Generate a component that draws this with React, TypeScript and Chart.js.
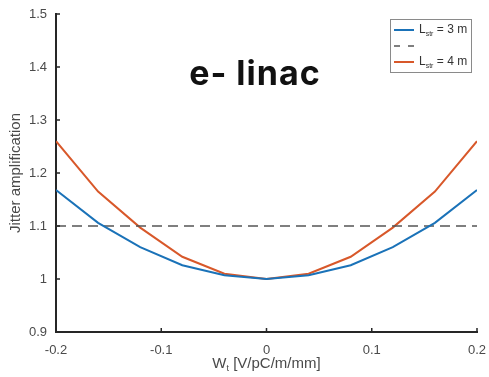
import React, { useEffect, useRef } from "react";
import { Chart, registerables } from "chart.js";

Chart.register(...registerables);

const wValues = [-0.2, -0.16, -0.12, -0.08, -0.04, 0, 0.04, 0.08, 0.12, 0.16, 0.2];
const jitter3m = [1.168, 1.106, 1.06, 1.026, 1.007, 1.0, 1.007, 1.026, 1.06, 1.106, 1.168];
const jitter4m = [1.26, 1.165, 1.097, 1.042, 1.01, 1.0, 1.01, 1.042, 1.097, 1.165, 1.26];
const thresholdX = [-0.2, 0.2];
const thresholdY = [1.1, 1.1];
const xTicks = [-0.2, -0.1, 0, 0.1, 0.2];
const yTicks = [0.9, 1, 1.1, 1.2, 1.3, 1.4, 1.5];
const seriesLabels = ["L_{str} = 3 m", "", "L_{str} = 4 m"];
const chartTitle = "e- linac";
const titleAnchor = { x: -0.011, y: 1.385 };
const xAxisTitle = "W_{t} [V/pC/m/mm]";
const yAxisTitle = "Jitter amplification";

const BLUE = "#1a72b8";
const ORANGE = "#d8582a";
const DASH = "#555555";
const AXIS = "#262626";
const TEXT = "#4a4a4a";
const FONT = "'Liberation Sans', Arial, sans-serif";

function parseRich(text: string) {
  const segs: { t: string; sub: boolean }[] = [];
  const re = /_\{([^}]*)\}/g;
  let last = 0;
  let m: RegExpExecArray | null;
  while ((m = re.exec(text))) {
    if (m.index > last) segs.push({ t: text.slice(last, m.index), sub: false });
    segs.push({ t: m[1], sub: true });
    last = m.index + m[0].length;
  }
  if (last < text.length) segs.push({ t: text.slice(last), sub: false });
  return segs;
}

function drawRich(
  ctx: CanvasRenderingContext2D,
  text: string,
  x: number,
  y: number,
  size: number,
  align: "left" | "center",
  color: string
) {
  const segs = parseRich(text);
  const subSize = Math.round(size * 0.62);
  let total = 0;
  for (const s of segs) {
    ctx.font = `${s.sub ? subSize : size}px ${FONT}`;
    total += ctx.measureText(s.t).width;
  }
  let cx = align === "center" ? x - total / 2 : x;
  ctx.fillStyle = color;
  ctx.textBaseline = "middle";
  ctx.textAlign = "left";
  for (const s of segs) {
    ctx.font = `${s.sub ? subSize : size}px ${FONT}`;
    ctx.fillText(s.t, cx, s.sub ? y + size * 0.3 : y);
    cx += ctx.measureText(s.t).width;
  }
}

const decorPlugin = {
  id: "decor",
  afterDraw(chart: any) {
    const { ctx, chartArea, scales } = chart;
    const xs = scales.x;
    const ys = scales.y;
    ctx.save();
    // inward tick marks
    ctx.strokeStyle = AXIS;
    ctx.lineWidth = 1.5;
    ctx.beginPath();
    for (const v of yTicks) {
      const py = ys.getPixelForValue(v);
      ctx.moveTo(chartArea.left, py);
      ctx.lineTo(chartArea.left + 4, py);
    }
    for (const v of xTicks) {
      const px = xs.getPixelForValue(v);
      ctx.moveTo(px, chartArea.bottom);
      ctx.lineTo(px, chartArea.bottom - 4);
    }
    ctx.stroke();

    // x axis title with subscript
    drawRich(ctx, xAxisTitle, (chartArea.left + chartArea.right) / 2, chartArea.bottom + 32, 15, "center", TEXT);

    // big title
    ctx.fillStyle = "#111111";
    ctx.font = "bold 34px Inter, 'Open Sans', sans-serif";
    (ctx as any).letterSpacing = "1px";
    ctx.textAlign = "center";
    ctx.textBaseline = "middle";
    ctx.fillText(chartTitle, xs.getPixelForValue(titleAnchor.x), ys.getPixelForValue(titleAnchor.y));
    (ctx as any).letterSpacing = "0px";

    // legend
    const boxW = 81;
    const boxH = 53;
    const bx = chartArea.right - 6 - boxW;
    const by = chartArea.top + 5;
    ctx.fillStyle = "#ffffff";
    ctx.fillRect(bx, by, boxW, boxH);
    ctx.strokeStyle = "#8a8a8a";
    ctx.lineWidth = 1;
    ctx.strokeRect(bx + 0.5, by + 0.5, boxW, boxH);
    chart.data.datasets.forEach((ds: any, i: number) => {
      const ry = by + 11 + i * 16;
      ctx.strokeStyle = ds.borderColor;
      ctx.lineWidth = ds.borderWidth;
      ctx.setLineDash(ds.borderDash ? [6, 8] : []);
      ctx.beginPath();
      ctx.moveTo(bx + 4, ry);
      ctx.lineTo(bx + 24, ry);
      ctx.stroke();
      ctx.setLineDash([]);
      if (ds.label) drawRich(ctx, ds.label, bx + 29, ry, 12, "left", "#333333");
    });
    ctx.restore();
  },
};

export default function App() {
  const ref = useRef<HTMLCanvasElement | null>(null);
  useEffect(() => {
    document.body.style.margin = "0";
    if (!ref.current) return;
    const chart = new Chart(ref.current, {
      type: "line",
      data: {
        datasets: [
          {
            label: seriesLabels[0],
            data: wValues.map((x, i) => ({ x, y: jitter3m[i] })),
            borderColor: BLUE,
            borderWidth: 2,
            pointRadius: 0,
            tension: 0,
          },
          {
            label: seriesLabels[1],
            data: thresholdX.map((x, i) => ({ x, y: thresholdY[i] })),
            borderColor: DASH,
            borderWidth: 1.5,
            borderDash: [10, 6],
            pointRadius: 0,
            tension: 0,
          },
          {
            label: seriesLabels[2],
            data: wValues.map((x, i) => ({ x, y: jitter4m[i] })),
            borderColor: ORANGE,
            borderWidth: 2,
            pointRadius: 0,
            tension: 0,
          },
        ],
      },
      options: {
        animation: false,
        responsive: true,
        maintainAspectRatio: false,
        layout: { padding: { top: 14, right: 12, left: 0, bottom: 0 } },
        plugins: { legend: { display: false }, tooltip: { enabled: false } },
        scales: {
          x: {
            type: "linear",
            min: -0.2,
            max: 0.2,
            afterBuildTicks: (s: any) => {
              s.ticks = xTicks.map((v) => ({ value: v }));
            },
            afterFit: (s: any) => {
              s.height = 45;
              s.paddingLeft = 0;
              s.paddingRight = 0;
            },
            grid: { display: false, drawTicks: false },
            border: { display: true, color: AXIS, width: 2 },
            ticks: {
              padding: 11,
              color: TEXT,
              font: { size: 13, family: FONT },
              maxRotation: 0,
              callback: (v: any) => String(Math.round(Number(v) * 10) / 10),
            },
          },
          y: {
            min: 0.9,
            max: 1.5,
            afterBuildTicks: (s: any) => {
              s.ticks = yTicks.map((v) => ({ value: v }));
            },
            afterFit: (s: any) => {
              s.width = 56;
              s.paddingTop = 0;
              s.paddingBottom = 0;
            },
            grid: { display: false, drawTicks: false },
            border: { display: true, color: AXIS, width: 2 },
            title: {
              display: true,
              text: yAxisTitle,
              color: TEXT,
              font: { size: 15, family: FONT },
              padding: { top: 7, bottom: 0 },
            },
            ticks: {
              padding: 9,
              color: TEXT,
              font: { size: 13, family: FONT },
              callback: (v: any) => String(Math.round(Number(v) * 10) / 10),
            },
          },
        },
      },
      plugins: [decorPlugin],
    } as any);
    return () => chart.destroy();
  }, []);
  return (
    <div style={{ position: "relative", width: 489, height: 377 }}>
      <canvas ref={ref} />
    </div>
  );
}
